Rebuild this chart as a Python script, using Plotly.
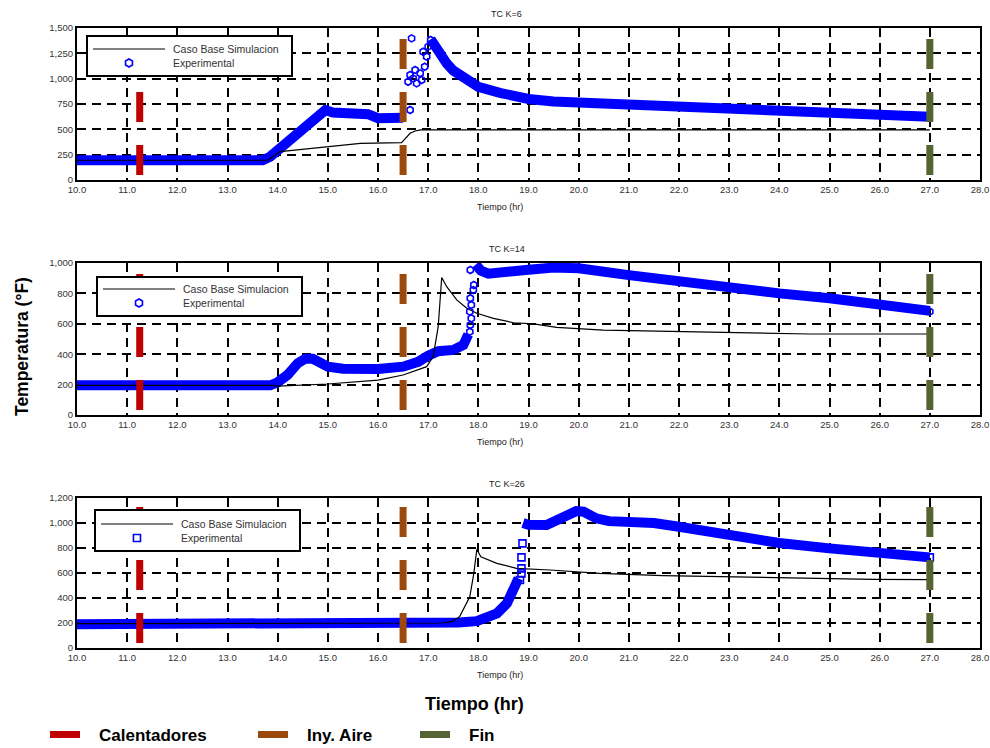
import math
import plotly.graph_objects as go

W, H = 990, 748

# ---------------- DATA ----------------
x_ticks = [10, 11, 12, 13, 14, 15, 16, 17, 18, 19, 20, 21, 22, 23, 24, 25, 26, 27, 28]

# Panel 1 : TC K=6
k6_sim_x = [10.0, 13.8, 14.05, 14.64, 15.01, 15.65, 16.47, 16.64, 16.74, 16.85, 27.0]
k6_sim_y = [195, 195, 280, 312, 329, 362, 368, 461, 484, 495, 495]
k6_band_x = [10.0, 13.7, 13.85, 14.0, 14.25, 14.5, 14.75, 14.95, 15.1, 15.4, 15.8, 16.0, 16.3, 16.5, None,
             17.05, 17.1, 17.2, 17.37, 17.5, 17.77, 18.0, 18.43, 19.0, 19.5, 20.0, 21.0, 22.0, 23.0, 24.0, 25.0, 26.0, 27.0]
k6_band_y = [195, 195, 230, 290, 400, 520, 620, 690, 665, 655, 650, 610, 600, 615, None,
             1390, 1350, 1250, 1150, 1080, 990, 920, 860, 800, 775, 765, 745, 730, 715, 695, 670, 645, 625]
k6_pts_x = [16.64, 16.67, 16.9, 16.74, 16.64, 16.6, 16.7, 16.84, 16.87, 16.77, 16.97, 17.0, 16.93, 17.05]
k6_pts_y = [691, 1398, 1266, 1086, 1036, 970, 1003, 1053, 987, 954, 1217, 1316, 1118, 1382]

# Panel 2 : TC K=14
k14_sim_x = [10.0, 13.9, 14.0, 15.0, 16.0, 16.5, 16.97, 17.1, 17.2, 17.27, 17.37, 17.57, 17.77, 17.97, 18.3,
             18.7, 19.1, 19.56, 20.49, 22.0, 24.6, 27.0]
k14_sim_y = [195, 195, 190, 204, 230, 263, 318, 384, 581, 905, 844, 757, 702, 669, 636,
             607, 599, 577, 559, 548, 533, 533]
k14_band_x = [10.0, 13.85, 14.0, 14.2, 14.4, 14.55, 14.7, 14.85, 15.0, 15.3, 16.0, 16.5, 16.8, 17.0, 17.2,
              17.5, 17.7, 17.8, None,
              17.95, 18.05, 18.2, 18.5, 19.0, 19.5, 20.0, 21.0, 22.0, 23.0, 24.0, 25.0, 26.0, 27.0]
k14_band_y = [195, 195, 215, 265, 340, 370, 370, 340, 318, 305, 302, 318, 350, 390, 420,
              428, 460, 530, None,
              990, 950, 930, 935, 955, 970, 965, 920, 877, 833, 800, 768, 724, 685]
k14_pts_x = [17.83, 17.84, 17.86, 17.83, 17.86, 17.84, 17.9, 17.91, 17.84, 27.0]
k14_pts_y = [548, 592, 636, 680, 724, 768, 822, 855, 954, 680]

# Panel 3 : TC K=26
k26_sim_x = [10.0, 17.3, 17.5, 17.63, 17.83, 17.91, 17.97, 18.05, 18.37, 18.76, 19.43, 20.42, 21.68,
             23.34, 25.87, 27.0]
k26_sim_y = [195, 200, 215, 253, 410, 597, 790, 730, 677, 637, 624, 597, 579,
             565, 549, 547]
k26_band_x = [10.0, 17.0, 17.24, 17.6, 17.97, 18.2, 18.37, 18.57, 18.7, 18.8, None,
              18.89, 19.0, 19.36, 19.6, 19.95, 20.1, 20.35, 20.6, 21.0, 21.5, 22.0, 23.0, 24.0, 25.0, 26.0, 27.0]
k26_band_y = [190, 190, 200, 205, 215, 240, 277, 357, 464, 557, None,
              1000, 985, 984, 1030, 1095, 1090, 1037, 1015, 1010, 1000, 970, 904, 840, 797, 757, 725]
k26_pts_x = [18.83, 18.86, 18.86, 18.86, 18.88, 27.0]
k26_pts_y = [544, 597, 637, 725, 837, 725]

# Events (vertical markers)
event_names = ["Calentadores", "Iny. Aire", "Fin"]
event_times = [11.25, 16.5, 27.0]
event_colors = ["#C00000", "#9C4A0C", "#556432"]

panel_titles = ["TC K=6", "TC K=14", "TC K=26"]
panel_ymax = [1500, 1000, 1200]
panel_dtick = [250, 200, 200]
series_names = ["Caso Base Simulacion", "Experimental"]

# ---------------- LAYOUT GEOMETRY (pixels) ----------------
PX_L, PX_R = 77, 980
panel_px = [(28, 180), (263, 415), (498, 648)]
legend_box_px = [(87, 36, 292, 76), (97, 277, 302, 316), (95, 510, 300, 551)]
event_legend_px = [40, 248, 410]

def fx(p):
    return p / W

def fy(p):
    return 1 - p / H

BLUE = "#0000FF"
FONT = "Liberation Sans, Arial, sans-serif"
NARROW = "Liberation Sans Narrow, Arial Narrow, sans-serif"
fig = go.Figure()

sims = [(k6_sim_x, k6_sim_y), (k14_sim_x, k14_sim_y), (k26_sim_x, k26_sim_y)]
bands = [(k6_band_x, k6_band_y), (k14_band_x, k14_band_y), (k26_band_x, k26_band_y)]
pts = [(k6_pts_x, k6_pts_y), (k14_pts_x, k14_pts_y), (k26_pts_x, k26_pts_y)]
symbols = ["hexagon-open", "hexagon-open", "square-open"]

for i in range(3):
    sfx = "" if i == 0 else str(i + 1)
    xa, ya = "x" + sfx, "y" + sfx
    fig.add_trace(go.Scatter(x=bands[i][0], y=bands[i][1], mode="lines",
                             line=dict(color=BLUE, width=10), showlegend=False,
                             xaxis=xa, yaxis=ya, hoverinfo="skip"))
    fig.add_trace(go.Scatter(x=sims[i][0], y=sims[i][1], mode="lines", name=series_names[0],
                             line=dict(color="black", width=1.2), showlegend=False,
                             xaxis=xa, yaxis=ya))
    fig.add_trace(go.Scatter(x=pts[i][0], y=pts[i][1], mode="markers", name=series_names[1],
                             marker=dict(symbol=symbols[i], size=7, color=BLUE,
                                         line=dict(color=BLUE, width=1.6)),
                             showlegend=False, xaxis=xa, yaxis=ya))
    for j in range(3):
        fig.add_trace(go.Scatter(x=[event_times[j], event_times[j]], y=[0, panel_ymax[i]],
                                 mode="lines", name=event_names[j],
                                 line=dict(color=event_colors[j], width=7,
                                           dash="0px,5px,30px,23px,30px,23px,30px,23px,30px"),
                                 showlegend=(i == 0), legend="legend" + str(4 + j),
                                 xaxis=xa, yaxis=ya, hoverinfo="skip"))

tickfont = dict(family=FONT, size=9.5, color="#333")
grid = dict(showgrid=True, gridcolor="black", gridwidth=1.5, griddash="9px,6px",
            showline=True, linecolor="black", linewidth=2, mirror=True, zeroline=False,
            ticks="", tickfont=tickfont, automargin=False)

layout = dict(width=W, height=H, margin=dict(l=0, r=0, t=0, b=0, autoexpand=False),
              paper_bgcolor="white", plot_bgcolor="white", showlegend=True)

annotations = []
shapes = []

def note(text, px, py, size, family=FONT, color="#222", **kw):
    d = dict(text=text, x=fx(px), y=fy(py), xref="paper", yref="paper", showarrow=False,
             xanchor=kw.pop("xanchor", "center"), yanchor="middle",
             font=dict(family=family, size=size, color=color))
    d.update(kw)
    annotations.append(d)

for i in range(3):
    sfx = "" if i == 0 else str(i + 1)
    top, bot = panel_px[i]
    layout["xaxis" + sfx] = dict(domain=[fx(PX_L), fx(PX_R)], anchor="y" + sfx, range=[10, 28],
                                 tickvals=x_ticks, tickformat=".1f", **grid)
    layout["yaxis" + sfx] = dict(domain=[fy(bot), fy(top)], anchor="x" + sfx,
                                 range=[0, panel_ymax[i]], dtick=panel_dtick[i], tickformat=",d", **grid)
    note(panel_titles[i], 507, top - 14, 9)
    note("Tiempo (hr)", 500, bot + 27, 9)
    # in-panel legend box (drawn by hand to match the original compact key)
    bx0, by0, bx1, by1 = legend_box_px[i]
    shapes.append(dict(type="rect", xref="paper", yref="paper", layer="above",
                       x0=fx(bx0), x1=fx(bx1), y0=fy(by1), y1=fy(by0),
                       fillcolor="white", line=dict(color="black", width=2)))
    ly1 = by1 - 27
    ly2 = by1 - 13
    shapes.append(dict(type="line", xref="paper", yref="paper", layer="above",
                       x0=fx(bx0 + 6), x1=fx(bx0 + 78), y0=fy(ly1), y1=fy(ly1),
                       line=dict(color="black", width=1.2)))
    cx, cy = bx0 + 42, ly2
    if symbols[i].startswith("hexagon"):
        r = 4
        pth = "M" + " L".join("%.4f,%.4f" % (fx(cx + r * math.cos(math.radians(60 * k + 30))),
                                             fy(cy + r * math.sin(math.radians(60 * k + 30))))
                              for k in range(6)) + " Z"
    else:
        r = 3.5
        pth = "M%.4f,%.4f L%.4f,%.4f L%.4f,%.4f L%.4f,%.4f Z" % (
            fx(cx - r), fy(cy - r), fx(cx + r), fy(cy - r), fx(cx + r), fy(cy + r), fx(cx - r), fy(cy + r))
    shapes.append(dict(type="path", xref="paper", yref="paper", layer="above", path=pth,
                       line=dict(color=BLUE, width=1.6)))
    note(series_names[0], bx0 + 84, ly1, 10.5, color="#333", xanchor="left")
    note(series_names[1], bx0 + 84, ly2, 10.5, color="#333", xanchor="left")

for j in range(3):
    layout["legend" + str(4 + j)] = dict(x=fx(event_legend_px[j]), y=fy(717), xanchor="left", yanchor="top",
                                         orientation="h", bgcolor="rgba(0,0,0,0)", borderwidth=0,
                                         itemwidth=49,
                                         font=dict(family=NARROW, size=17, color="black", weight="bold"))

note("<b>Tiempo (hr)</b>", 474, 704, 18, family=NARROW, color="black")
note("<b>Temperatura (°F)</b>", 22, 347, 17.5, color="black", textangle=-90)
layout["annotations"] = annotations
layout["shapes"] = shapes

fig.update_layout(**layout)
fig.write_html("out.html")
